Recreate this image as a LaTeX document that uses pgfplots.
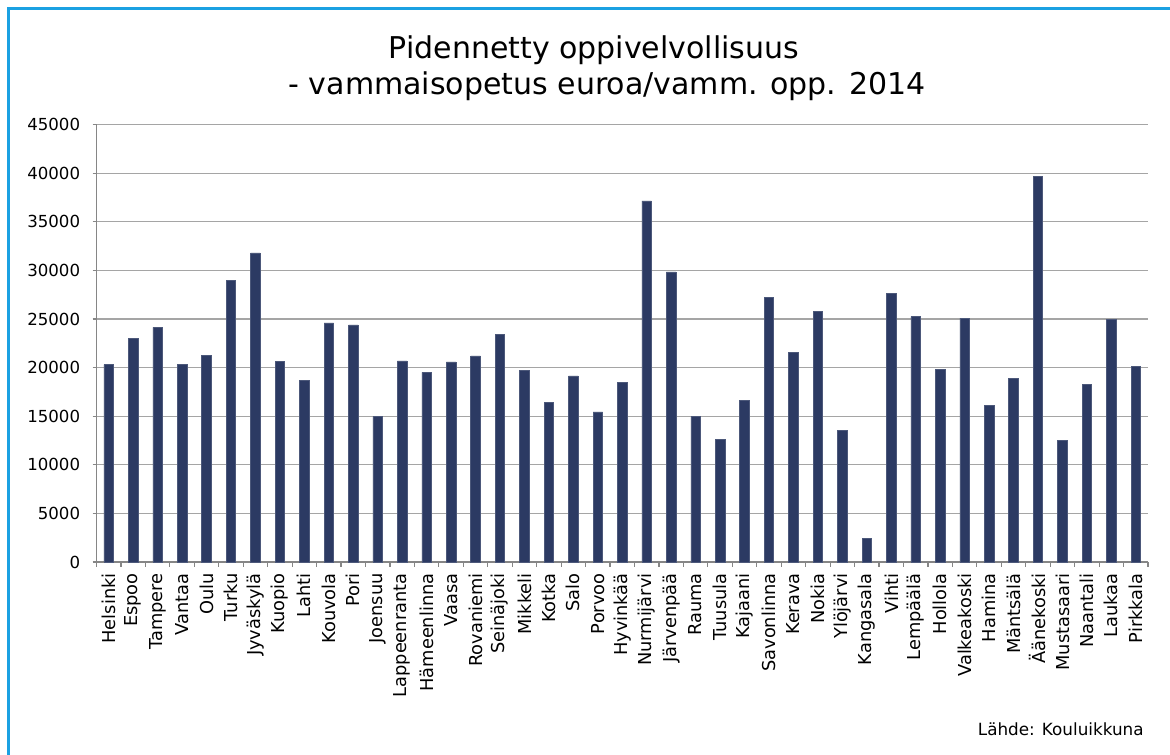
\documentclass[border=0pt]{standalone}
\usepackage{fontspec}
\setmainfont{DejaVu Sans}
\usepackage{pgfplots}
\usepackage{pgfplotstable}
\pgfplotsset{compat=1.18}
\definecolor{barc}{RGB}{44,58,99}
\definecolor{framec}{RGB}{27,161,226}
\definecolor{axisgray}{RGB}{134,134,134}
\definecolor{gridgray}{RGB}{165,165,165}
\pgfplotstableread{
x y
0 20300
1 23000
2 24150
3 20350
4 21250
5 28950
6 31800
7 20650
8 18700
9 24600
10 24400
11 14950
12 20700
13 19500
14 20600
15 21200
16 23450
17 19700
18 16400
19 19150
20 15450
21 18500
22 37150
23 29850
24 14950
25 12650
26 16650
27 27250
28 21550
29 25800
30 13550
31 2450
32 27600
33 25250
34 19800
35 25100
36 16100
37 18900
38 39700
39 12550
40 18250
41 24950
42 20150
}\datatable
\begin{document}
\begin{tikzpicture}
\path[use as bounding box] (0,0) rectangle (585pt,377pt);
\fill[white] (0,0) rectangle (585pt,377pt);
\draw[framec, line width=1.5pt] (4pt,-5pt) -- (4pt,372.5pt) -- (595pt,372.5pt);
\node[anchor=base, inner sep=0pt, font=\fontsize{15}{18}\selectfont] at (297pt,347.5pt) {Pidennetty oppivelvollisuus};
\node[anchor=base, inner sep=0pt, font=\fontsize{15}{18}\selectfont] at (303.5pt,329.5pt) {- vammaisopetus euroa/vamm. opp. 2014};
\node[anchor=base east, inner sep=0pt, font=\fontsize{8.4}{10}\selectfont] at (572pt,9.5pt) {Lähde: Kouluikkuna};
\begin{axis}[
  at={(48.25pt,96pt)}, anchor=south west,
  scale only axis, width=525.75pt, height=218.65pt,
  xmin=-0.5, xmax=42.5, ymin=0, ymax=45000,
  axis x line*=bottom, axis y line*=left,
  axis line style={draw=axisgray, line width=0.7pt},
  ymajorgrids, grid style={draw=gridgray, line width=0.6pt},
  ytick={0,5000,...,45000},
  scaled y ticks=false,
  tick align=outside,
  major tick length=2pt,
  ytick style={draw=axisgray, line width=0.6pt},
  xtick={0,...,42},
  xtick style={draw=none},
  extra x ticks={-0.5,0.5,...,42.5},
  extra x tick labels={},
  extra x tick style={xtick style={draw=axisgray, line width=0.6pt}, major tick length=2.5pt, grid=none},
  xticklabels={Helsinki,Espoo,Tampere,Vantaa,Oulu,Turku,Jyväskylä,Kuopio,Lahti,Kouvola,Pori,Joensuu,Lappeenranta,Hämeenlinna,Vaasa,Rovaniemi,Seinäjoki,Mikkeli,Kotka,Salo,Porvoo,Hyvinkää,Nurmijärvi,Järvenpää,Rauma,Tuusula,Kajaani,Savonlinna,Kerava,Nokia,Ylöjärvi,Kangasala,Vihti,Lempäälä,Hollola,Valkeakoski,Hamina,Mäntsälä,Äänekoski,Mustasaari,Naantali,Laukaa,Pirkkala},
  xticklabel style={rotate=90, anchor=east, inner sep=0pt, font=\fontsize{8.9}{10}\selectfont},
  xticklabel shift=3.5pt,
  yticklabel style={anchor=east, inner sep=0pt, font=\fontsize{8.3}{10}\selectfont},
  yticklabel shift=6pt,
  /pgf/number format/1000 sep={},
  /pgf/number format/assume math mode=true,
  ybar, bar width=4.75pt, bar shift=0pt,
  clip=false,
]
\addplot[fill=barc, draw=barc!85!white, line width=0.3pt] table[x=x,y=y] {\datatable};
\end{axis}
\end{tikzpicture}
\end{document}
